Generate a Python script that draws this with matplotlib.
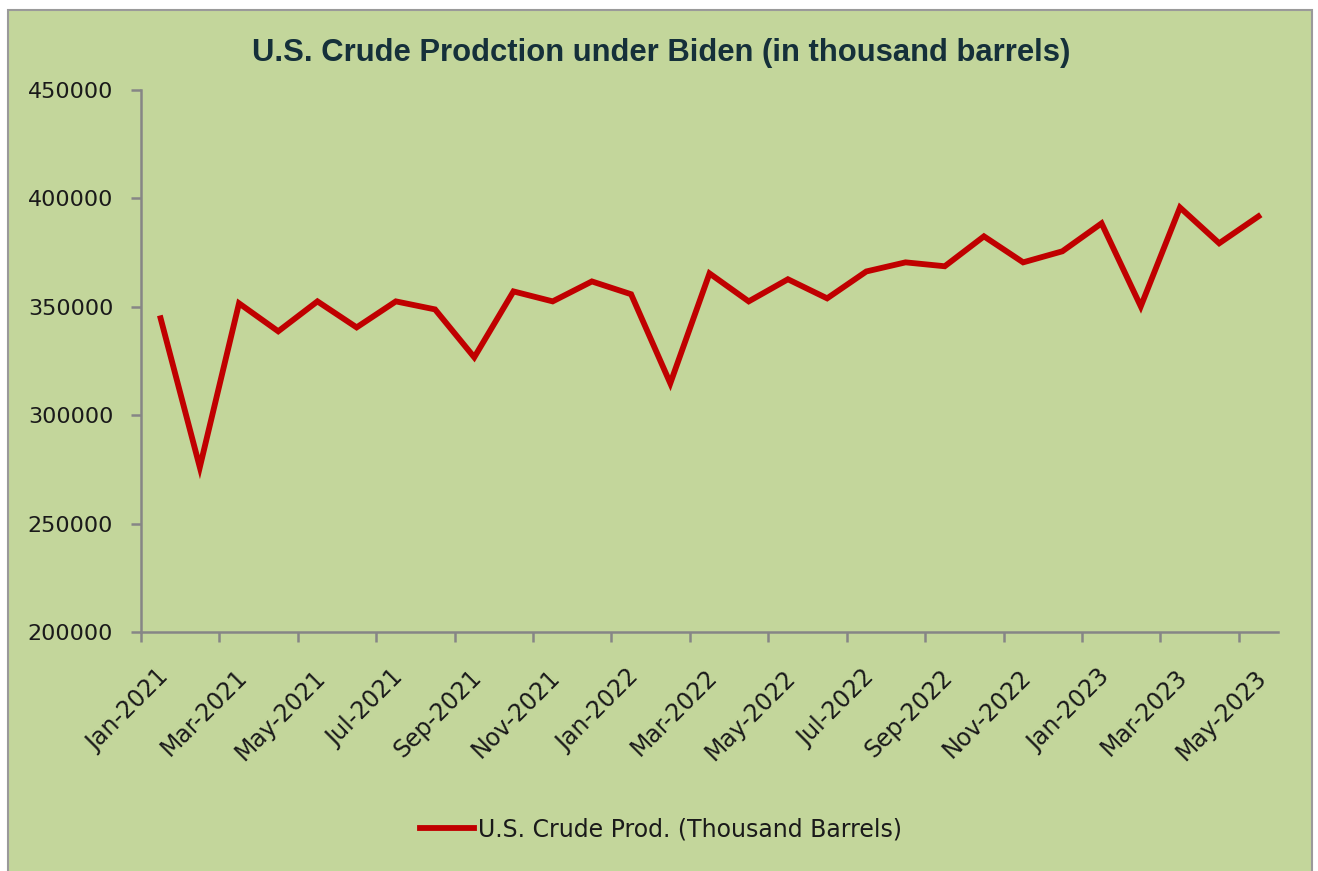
import numpy as np
import matplotlib
matplotlib.use("Agg")
import matplotlib.pyplot as plt
from matplotlib.patches import Rectangle
from matplotlib.transforms import ScaledTranslation

# monthly data Jan-2021 .. May-2023
months = ["Jan-2021", "Feb-2021", "Mar-2021", "Apr-2021", "May-2021", "Jun-2021",
          "Jul-2021", "Aug-2021", "Sep-2021", "Oct-2021", "Nov-2021", "Dec-2021",
          "Jan-2022", "Feb-2022", "Mar-2022", "Apr-2022", "May-2022", "Jun-2022",
          "Jul-2022", "Aug-2022", "Sep-2022", "Oct-2022", "Nov-2022", "Dec-2022",
          "Jan-2023", "Feb-2023", "Mar-2023", "Apr-2023", "May-2023"]
crude_prod = [344700, 276000, 351600, 338700, 352500, 340500,
              352500, 348800, 326700, 357100, 352500, 361700,
              355800, 314700, 365400, 352500, 362700, 353900,
              366300, 370500, 368700, 382500, 370500, 375600,
              388500, 350200, 395800, 379300, 391700]
y_ticks = [200000, 250000, 300000, 350000, 400000, 450000]

bg = "#C3D69B"
axis_col = "#868686"

plt.rcParams['font.family'] = ['DejaVu Sans']

fig = plt.figure(figsize=(13.18, 8.71), dpi=100)
fig.patch.set_facecolor("white")
fig.patches.append(Rectangle((8/1318, -0.01), 1304/1318, 1 - 10/871 + 0.01,
                             transform=fig.transFigure, facecolor=bg,
                             edgecolor="#9a9a9a", linewidth=1.5, zorder=-10))

ax = fig.add_axes([141/1318, 1 - 632/871, (1278 - 141)/1318, (632 - 90)/871])
ax.set_facecolor("none")
ax.set_zorder(5)

x = np.arange(len(months))
line, = ax.plot(x, crude_prod, color="#C00000", linewidth=4.2,
                solid_joinstyle="miter", label="U.S. Crude Prod. (Thousand Barrels)")

ax.set_xlim(-0.5, len(months) - 0.5)
ax.set_ylim(y_ticks[0], y_ticks[-1])
ax.set_yticks(y_ticks)
ax.set_yticklabels([str(v) for v in y_ticks])

ax.set_xticks(x[::2])
ax.set_xticklabels(months[::2])
ax.set_xticks(np.arange(-0.5, len(months) - 1, 2), minor=True)

for s in ["top", "right"]:
    ax.spines[s].set_visible(False)
for s in ["left", "bottom"]:
    ax.spines[s].set_color(axis_col)
    ax.spines[s].set_linewidth(1.8)

ax.tick_params(axis="y", length=7, width=1.8, color=axis_col, pad=13,
               labelsize=16, labelcolor="#1a1a1a")
ax.tick_params(axis="x", which="major", length=0, pad=30,
               labelsize=17, labelcolor="#1a1a1a")
ax.tick_params(axis="x", which="minor", length=7, width=1.8, color=axis_col)

shift = ScaledTranslation(4/100, 0, fig.dpi_scale_trans)
for lab in ax.get_xticklabels():
    lab.set_rotation(45)
    lab.set_ha("right")
    lab.set_va("center")
    lab.set_rotation_mode("anchor")
    lab.set_transform(lab.get_transform() + shift)

fig.text(0.5016, 1 - 53/871, "U.S. Crude Prodction under Biden (in thousand barrels)",
         ha="center", va="center", fontsize=22.3, fontweight="bold",
         family="Liberation Sans", color="#15303a")

fig.legend(handles=[line], loc="center", bbox_to_anchor=(0.5016, 1 - 829/871),
           frameon=False, fontsize=17, handlelength=2.3, handletextpad=0.15,
           labelcolor="#1a1a1a")

fig.savefig("out.png", dpi=100, facecolor=fig.get_facecolor())
